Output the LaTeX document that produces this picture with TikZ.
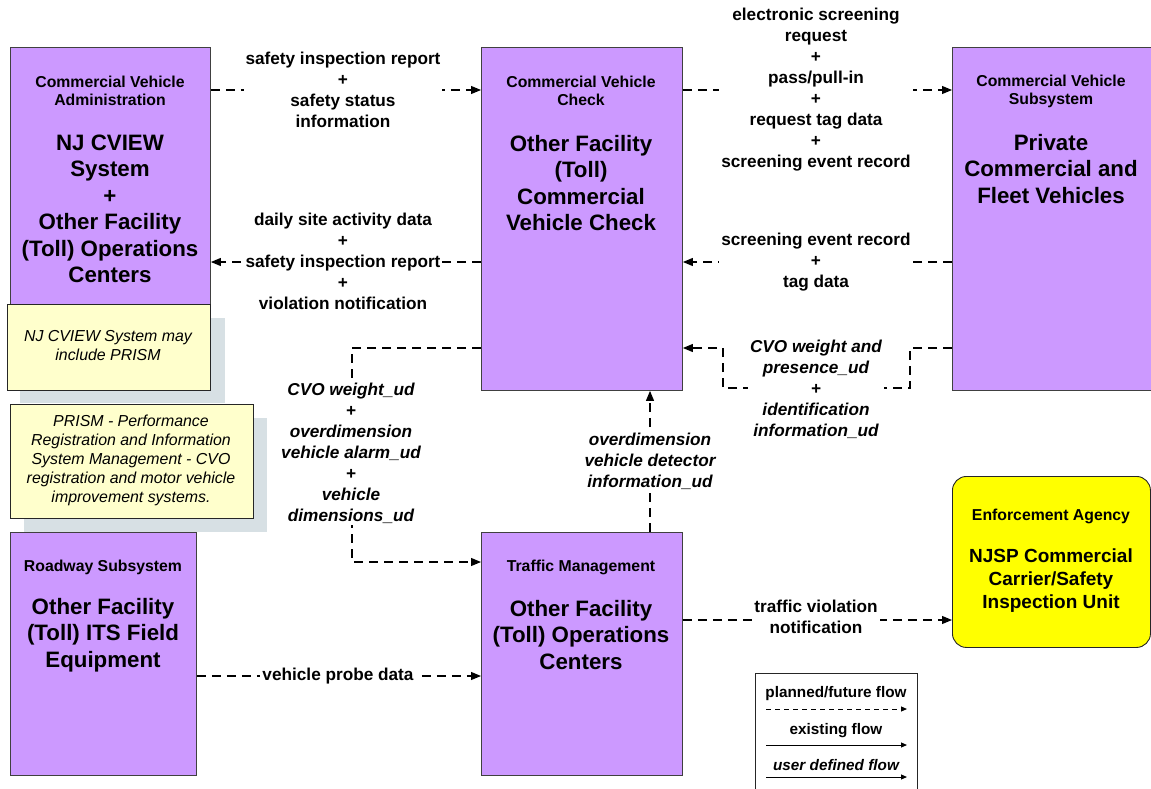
\documentclass[tikz,border=0pt]{standalone}
\usepackage{fontspec}
\setmainfont{Liberation Sans}
\usetikzlibrary{arrows.meta}
\definecolor{cvpurple}{RGB}{204,153,255}
\definecolor{noteyellow}{RGB}{255,255,204}
\definecolor{noteshadow}{RGB}{215,224,228}
\definecolor{enfyellow}{RGB}{255,255,0}
\tikzset{
  box/.style={draw=black!75, fill=cvpurple, line width=0.9pt, anchor=north west, inner sep=0pt},
  notebox/.style={draw=black!85, fill=noteyellow, line width=0.9pt, anchor=north west, inner sep=0pt},
  shadowbox/.style={fill=noteshadow, draw=none, anchor=north west, inner sep=0pt},
  flow/.style={line width=1.1pt, dash pattern=on 9pt off 6pt, -{Triangle[length=10pt,width=8pt]}},
  lbl/.style={fill=white, align=center, font=\fontsize{17.2}{21}\selectfont\bfseries, inner sep=2pt},
  ulbl/.style={lbl, font=\fontsize{17.2}{21}\selectfont\bfseries\itshape},
  hdr/.style={align=center, font=\fontsize{15.8}{18}\selectfont\bfseries, inner sep=0pt},
  ttl/.style={align=center, font=\fontsize{22.3}{26.5}\selectfont\bfseries, inner sep=0pt},
  notetxt/.style={align=center, font=\fontsize{15.9}{19}\selectfont\itshape, inner sep=0pt},
  legtxt/.style={align=center, font=\fontsize{15.3}{17}\selectfont\bfseries, inner sep=0pt},
}
\begin{document}
\begin{tikzpicture}[x=1pt,y=-1pt]
\useasboundingbox (0,0) rectangle (1151,789);

% ---- boxes ----
\node[box, minimum width=200pt, minimum height=258pt] (cva) at (10,47) {};
\node[box, minimum width=201pt, minimum height=343pt] (cvc) at (481,47) {};
\node[box, minimum width=199pt, minimum height=343pt] (cvs) at (952,47) {};
\node[box, minimum width=201pt, minimum height=243pt] (tm) at (481,532) {};
\node[draw=black!85, fill=enfyellow, line width=0.9pt, rounded corners=14pt, anchor=north west,
      minimum width=198pt, minimum height=171pt, inner sep=0pt] (enf) at (952,476) {};

% ---- notes ----
\node[shadowbox, minimum width=205pt, minimum height=85pt] (sh1) at (20,318) {};
\node[notebox, minimum width=203pt, minimum height=86pt] (note1) at (7,304) {};
\node[notetxt] (note1t) at (108,346) {NJ CVIEW System may\\include PRISM};
\node[shadowbox, minimum width=243pt, minimum height=114pt] (sh2) at (24,418) {};
\node[notebox, minimum width=243pt, minimum height=114pt] (note2) at (10,404) {};
\node[notetxt] (note2t) at (131,460) {PRISM - Performance\\Registration and Information\\System Management - CVO\\registration and motor vehicle\\improvement systems.};

\node[box, minimum width=186pt, minimum height=243pt] (rw) at (10,532) {};

% ---- box texts ----
\node[hdr] (cvah) at (110,91) {Commercial Vehicle\\Administration};
\node[ttl] (cvat) at (110,209) {NJ CVIEW\\System\\+\\Other Facility\\(Toll) Operations\\Centers};
\node[hdr] (cvch) at (581,91) {Commercial Vehicle\\Check};
\node[ttl] (cvct) at (581,183) {Other Facility\\(Toll)\\Commercial\\Vehicle Check};
\node[hdr] (cvsh) at (1051,91) {Commercial Vehicle\\Subsystem};
\node[ttl] (cvst) at (1051,169) {Private\\Commercial and\\Fleet Vehicles};
\node[hdr] (rwh) at (103,567) {Roadway Subsystem};
\node[ttl] (rwt) at (103,635) {Other Facility\\(Toll) ITS Field\\Equipment};
\node[hdr] (tmh) at (581,567) {Traffic Management};
\node[ttl] (tmt) at (581,635) {Other Facility\\(Toll) Operations\\Centers};
\node[hdr] (enfh) at (1051,516) {Enforcement Agency};
\node[align=center, font=\fontsize{19}{23}\selectfont\bfseries, inner sep=0pt] (enft) at (1051,581) {NJSP Commercial\\Carrier/Safety\\Inspection Unit};

% ---- connectors ----
\draw[flow] (cva.east |- 0,90) -- (cvc.west |- 0,90);
\node[lbl] (l1) at (343,90) {safety inspection report\\+\\safety status\\information};

\draw[flow] (cvc.west |- 0,262) -- (cva.east |- 0,262);
\node[lbl] (l2) at (343,261) {daily site activity data\\+\\safety inspection report\\+\\violation notification};

\draw[flow] (cvc.east |- 0,90) -- (cvs.west |- 0,90);
\node[lbl] (l3) at (816,90) {electronic screening\\request\\+\\pass/pull-in\\+\\request tag data\\+\\screening event record};

\draw[flow] (cvs.west |- 0,262) -- (cvc.east |- 0,262);
\node[lbl] (l4) at (816,262) {screening event record\\+\\tag data};

\draw[flow] (cvs.west |- 0,348) -- (910,348) -- (910,388) -- (723,388) -- (723,348) -- (cvc.east |- 0,348);
\node[ulbl] (l5) at (816,389) {CVO weight and\\presence\_ud\\+\\identification\\information\_ud};

\draw[flow] (cvc.west |- 0,348) -- (352,348) -- (352,562) -- (tm.west |- 0,562);
\node[ulbl] (l6) at (351,453) {CVO weight\_ud\\+\\overdimension\\vehicle alarm\_ud\\+\\vehicle\\dimensions\_ud};

\draw[flow] (tm.north -| 650,0) -- (cvc.south -| 650,0);
\node[ulbl] (l7) at (650,461) {overdimension\\vehicle detector\\information\_ud};

\draw[flow] (tm.east |- 0,620) -- (enf.west |- 0,620);
\node[lbl] (l8) at (816,617) {traffic violation\\notification};

\draw[flow] (rw.east |- 0,676) -- (tm.west |- 0,676);
\node[lbl] (l9) at (338,676) {vehicle probe data};

% ---- legend ----
\node[draw=black!85, line width=1pt, anchor=north west, minimum width=162pt, minimum height=130pt, inner sep=0pt] (leg) at (755,673) {};
\node[legtxt] (lg1) at (836,694) {planned/future flow};
\coordinate (lga1) at (766,709); \coordinate (lgb1) at (907,709);
\draw[line width=1pt, dash pattern=on 5pt off 4pt, -{Triangle[length=6pt,width=5pt]}] (lga1) -- (lgb1);
\node[legtxt] (lg2) at (836,731) {existing flow};
\coordinate (lga2) at (766,745); \coordinate (lgb2) at (907,745);
\draw[line width=1pt, -{Triangle[length=6pt,width=5pt]}] (lga2) -- (lgb2);
\node[legtxt, font=\fontsize{15.3}{17}\selectfont\bfseries\itshape] (lg3) at (836,765) {user defined flow};
\coordinate (lga3) at (766,777); \coordinate (lgb3) at (907,777);
\draw[line width=1pt, -{Triangle[length=6pt,width=5pt]}] (lga3) -- (lgb3);
\end{tikzpicture}
\end{document}
